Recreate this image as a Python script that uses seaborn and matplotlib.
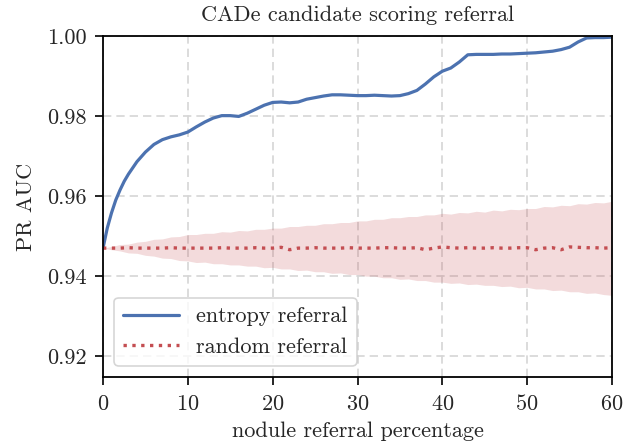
import numpy as np
import matplotlib
matplotlib.use("Agg")
import matplotlib.pyplot as plt
import seaborn as sns

# entropy referral curve
entropy_x = [0, 0.5, 1, 1.5, 2, 2.5, 3, 4, 5, 6, 7, 8, 9, 10,
             11, 12, 13, 14, 15, 16, 17, 18, 19, 20,
             21, 22, 23, 24, 25, 26, 27, 28, 29, 30,
             31, 32, 33, 34, 35, 36, 37, 38, 39, 40,
             41, 42, 43, 44, 45, 46, 47, 48, 49, 50,
             51, 52, 53, 54, 55, 56, 57, 58, 59, 60]
entropy_auc = [0.9470, 0.9520, 0.9558, 0.9590, 0.9615, 0.9637, 0.9655, 0.9686, 0.9710, 0.9729,
               0.9741, 0.9748, 0.9753, 0.9760,
               0.9773, 0.9785, 0.9795, 0.9801, 0.9801, 0.9799, 0.9807, 0.9817, 0.9827, 0.9834,
               0.9835, 0.9833, 0.9835, 0.9842, 0.9846, 0.9850, 0.9853, 0.9853, 0.9852, 0.9851,
               0.9851, 0.9852, 0.9851, 0.9850, 0.9851, 0.9856, 0.9864, 0.9880, 0.9898, 0.9912,
               0.9920, 0.9935, 0.9953, 0.9954, 0.9954, 0.9954, 0.9955, 0.9955, 0.9956, 0.9957,
               0.9958, 0.9960, 0.9962, 0.9966, 0.9972, 0.9985, 0.9995, 0.9996, 0.9996, 0.9997]

# random referral: mean and spread band, one value per percent
random_x = list(range(61))
random_mean = [0.9470, 0.9470, 0.9470, 0.9471, 0.9470, 0.9470, 0.9470, 0.9470, 0.9471, 0.9470, 0.9470,
               0.9470, 0.9470, 0.9470, 0.9471, 0.9470, 0.9470, 0.9470, 0.9471, 0.9470, 0.9470,
               0.9472, 0.9466, 0.9470, 0.9470, 0.9471, 0.9470, 0.9470, 0.9470, 0.9471, 0.9470,
               0.9470, 0.9470, 0.9471, 0.9471, 0.9470, 0.9470, 0.9471, 0.9466, 0.9470, 0.9473,
               0.9471, 0.9470, 0.9471, 0.9470, 0.9470, 0.9471, 0.9470, 0.9470, 0.9471, 0.9471,
               0.9466, 0.9470, 0.9471, 0.9466, 0.9473, 0.9472, 0.9471, 0.9471, 0.9470, 0.9471]
random_upper = [0.9470, 0.9474, 0.9479, 0.9480, 0.9485, 0.9487, 0.9492, 0.9493, 0.9498, 0.9499, 0.9504,
                0.9504, 0.9507, 0.9507, 0.9511, 0.9510, 0.9514, 0.9513, 0.9517, 0.9517, 0.9520,
                0.9520, 0.9524, 0.9524, 0.9527, 0.9527, 0.9531, 0.9531, 0.9534, 0.9534, 0.9538,
                0.9538, 0.9542, 0.9542, 0.9546, 0.9546, 0.9549, 0.9549, 0.9553, 0.9553, 0.9557,
                0.9555, 0.9559, 0.9558, 0.9562, 0.9560, 0.9565, 0.9563, 0.9567, 0.9566, 0.9569,
                0.9569, 0.9574, 0.9573, 0.9577, 0.9576, 0.9581, 0.9580, 0.9584, 0.9583, 0.9587]
random_lower = [0.9470, 0.9466, 0.9463, 0.9458, 0.9457, 0.9452, 0.9450, 0.9445, 0.9444, 0.9439, 0.9438,
                0.9434, 0.9435, 0.9431, 0.9431, 0.9428, 0.9428, 0.9425, 0.9425, 0.9421, 0.9422,
                0.9418, 0.9418, 0.9414, 0.9415, 0.9411, 0.9411, 0.9407, 0.9408, 0.9404, 0.9404,
                0.9400, 0.9400, 0.9396, 0.9396, 0.9392, 0.9393, 0.9389, 0.9389, 0.9385, 0.9385,
                0.9382, 0.9383, 0.9379, 0.9380, 0.9377, 0.9377, 0.9374, 0.9375, 0.9371, 0.9372,
                0.9368, 0.9368, 0.9364, 0.9365, 0.9361, 0.9361, 0.9357, 0.9358, 0.9354, 0.9352]

sns.set_theme(style="whitegrid")
plt.rcParams["font.family"] = ["cmr10", "DejaVu Serif"]
plt.rcParams["mathtext.fontset"] = "cm"
plt.rcParams["axes.formatter.use_mathtext"] = True
plt.rcParams["axes.unicode_minus"] = False

colors = sns.color_palette("deep")
fs = 16

fig = plt.figure(figsize=(6.34, 4.47), dpi=100)
ax = fig.add_axes([0.1625, 0.1566, 0.8028, 0.7629])

sns.lineplot(x=entropy_x, y=entropy_auc, ax=ax, color=colors[0], linewidth=2.3,
             label="entropy referral")
sns.lineplot(x=random_x, y=random_mean, ax=ax, color=colors[3], linewidth=2.4,
             linestyle=":", label="random referral")
ax.fill_between(random_x, random_lower, random_upper, color=colors[3], alpha=0.2, linewidth=0)

ax.set_xlim(0, 60)
ax.set_ylim(0.9148, 1.0)
ax.set_xticks([0, 10, 20, 30, 40, 50, 60])
ax.set_yticks([0.92, 0.94, 0.96, 0.98, 1.00])
ax.set_yticklabels(["0.92", "0.94", "0.96", "0.98", "1.00"])

ax.grid(True, linestyle=(0, (5, 3)), color="#d6d6d6", linewidth=1.2)
for s in ax.spines.values():
    s.set_color("black")
    s.set_linewidth(1.3)
ax.tick_params(axis="both", which="major", direction="out", length=5.5, width=1.2,
               color="black", labelsize=fs, bottom=True, left=True, pad=6)
ax.tick_params(axis="x", pad=7)

ax.set_title("CADe candidate scoring referral", fontsize=fs, pad=11)
ax.set_xlabel("nodule referral percentage", fontsize=fs, labelpad=5)
ax.set_ylabel("PR AUC", fontsize=fs, labelpad=8)

leg = ax.legend(loc="lower left", fontsize=fs, frameon=True, fancybox=True,
                handlelength=2.5, borderpad=0.4)
leg.get_frame().set_edgecolor("#cccccc")
leg.get_frame().set_linewidth(1.2)

fig.savefig("out.png", dpi=100)
